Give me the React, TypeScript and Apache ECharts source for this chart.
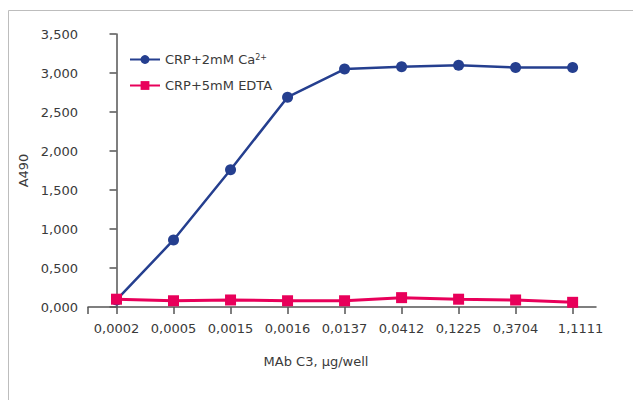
import React, { useEffect, useRef } from "react";
import * as echarts from "echarts";

const categories = ["0,0002", "0,0005", "0,0015", "0,0016", "0,0137", "0,0412", "0,1225", "0,3704", "1,1111"];
const caValues = [0.09, 0.86, 1.76, 2.69, 3.05, 3.08, 3.1, 3.07, 3.07];
const edtaValues = [0.1, 0.08, 0.09, 0.08, 0.08, 0.12, 0.1, 0.09, 0.06];
const yTicks = [0, 0.5, 1, 1.5, 2, 2.5, 3, 3.5];

const BLUE = "#253f8f";
const PINK = "#e8005a";
const TEXT = "#3a3a3a";
const AXIS = "#555555";
const FONT = "'DejaVu Sans', 'Noto Sans', sans-serif";

export default function App() {
  const ref = useRef<HTMLDivElement>(null);
  useEffect(() => {
    if (!ref.current) return;
    const chart = echarts.init(ref.current, null, { renderer: "svg" });
    const tickIdx = categories.map((_, i) => i);
    chart.setOption({
      animation: false,
      textStyle: { fontFamily: FONT, color: TEXT },
      graphic: [
        {
          type: "rect",
          shape: { x: 8.5, y: 10.5, width: 700, height: 500 },
          style: { fill: "none", stroke: "#bdbdbd", lineWidth: 1 },
          silent: true,
        },
      ],
      grid: { left: 88, right: 37, top: 34, bottom: 93, containLabel: false },
      legend: {
        orient: "vertical",
        left: 124,
        top: 48,
        itemWidth: 30,
        itemHeight: 11,
        itemGap: 13,
        data: ["CRP+2mM Ca2+", "CRP+5mM EDTA"],
        formatter: (name: string) =>
          name === "CRP+2mM Ca2+" ? "CRP+2mM Ca{sup|2+}" : name,
        textStyle: {
          fontFamily: FONT,
          fontSize: 13,
          color: TEXT,
          rich: {
            sup: { fontSize: 8, fontFamily: FONT, color: TEXT, padding: [0, 0, 4, 0] },
          },
        },
      },
      xAxis: {
        type: "value",
        min: -0.5,
        max: 8.41,
        name: "MAb C3, µg/well",
        nameLocation: "middle",
        nameGap: 48,
        nameTextStyle: { fontFamily: FONT, fontSize: 13, color: TEXT, padding: [0, 52, 0, 0] },
        splitLine: { show: false },
        axisLine: { lineStyle: { color: AXIS, width: 1.5 } },
        axisTick: {
          show: true,
          length: 7,
          customValues: [-0.5, ...tickIdx],
          lineStyle: { color: AXIS, width: 1.5 },
        },
        axisLabel: {
          customValues: tickIdx,
          margin: 15,
          fontFamily: FONT,
          fontSize: 13,
          color: TEXT,
          formatter: (v: number) => {
            const i = Math.round(v);
            const s = categories[i] ?? "";
            return i === categories.length - 1 ? "{last|" + s + "}" : s;
          },
          rich: {
            last: { fontFamily: FONT, fontSize: 13, color: TEXT, padding: [0, 0, 0, 16] },
          },
        },
      },
      yAxis: {
        type: "value",
        min: 0,
        max: 3.5,
        interval: 0.5,
        name: "A490",
        nameLocation: "middle",
        nameGap: 58,
        nameRotate: 90,
        nameTextStyle: { fontFamily: FONT, fontSize: 13, color: TEXT },
        splitLine: { show: false },
        axisLine: { show: true, lineStyle: { color: AXIS, width: 1.5 } },
        axisTick: { show: true, length: 7, inside: false, lineStyle: { color: AXIS, width: 1.5 } },
        axisLabel: {
          margin: 10,
          fontFamily: FONT,
          fontSize: 13,
          color: TEXT,
          formatter: (v: number) => (yTicks.includes(v) ? v.toFixed(3).replace(".", ",") : ""),
        },
      },
      series: [
        {
          name: "CRP+2mM Ca2+",
          type: "line",
          data: caValues.map((v, i) => [i, v]),
          symbol: "circle",
          symbolSize: 11,
          itemStyle: { color: BLUE },
          lineStyle: { color: BLUE, width: 2.5 },
          z: 3,
        },
        {
          name: "CRP+5mM EDTA",
          type: "line",
          data: edtaValues.map((v, i) => [i, v]),
          symbol: "rect",
          symbolSize: 11,
          itemStyle: { color: PINK },
          lineStyle: { color: PINK, width: 3 },
          z: 4,
        },
      ],
    });
    return () => chart.dispose();
  }, []);
  return (
    <div
      ref={ref}
      style={{ position: "absolute", left: 0, top: 0, width: 633, height: 400 }}
    />
  );
}
